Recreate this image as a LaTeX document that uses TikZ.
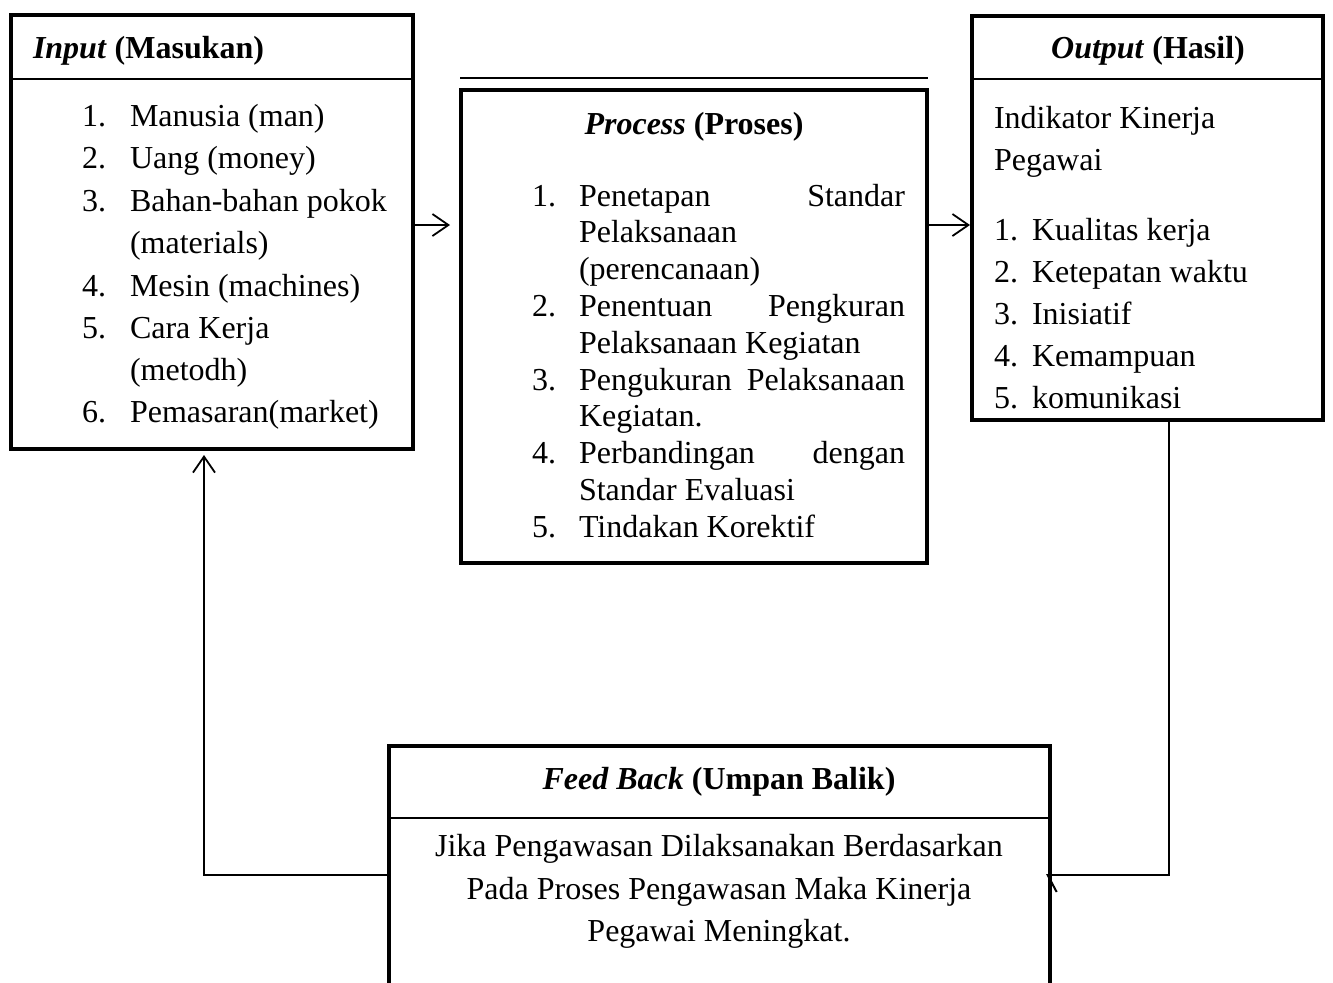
\documentclass[tikz,border=0pt]{standalone}
\usepackage{fontspec}
\setmainfont{Liberation Serif}
\usetikzlibrary{arrows.meta}
\begin{document}
\begin{tikzpicture}[x=0.5pt,y=-0.5pt,
  box/.style={draw, line width=2.25pt, anchor=north west, inner sep=0pt, outer sep=0pt},
  sepline/.style={line width=0.7pt},
  txt/.style={inner sep=0pt, outer sep=0pt, anchor=base west, yshift=-1pt, font=\fontsize{16}{19}\selectfont},
  ctxt/.style={txt, anchor=base},
  conn/.style={line width=0.9pt, -{Straight Barb[length=8pt,width=11pt,line width=0.9pt]}},
  harp/.style={line width=0.9pt, -{Straight Barb[harpoon,length=4.5pt,width=17pt,line width=1pt]}},
]
\useasboundingbox (0,0) rectangle (1333,982);
% boxes
\node[box, minimum width=201pt, minimum height=217pt] (inp) at (11,15) {};
\node[box, minimum width=233pt, minimum height=236.5pt] (proc) at (461,90) {};
\node[box, minimum width=175.5pt, minimum height=202pt] (out) at (972,16) {};
\node[box, minimum width=330.5pt, minimum height=140pt] (fb) at (389,746) {};
% header separators
\draw[sepline] (11,79) -- (413,79);
\draw[sepline] (972,79) -- (1323,79);
\draw[sepline] (389,818) -- (1050,818);
\draw[sepline] (460,78) -- (928,78);
% Input texts
\node[txt] (ih) at (33,56) {\textbf{\textit{Input} (Masukan)}};
\node[txt] (in1) at (82,124) {1.};
\node[txt] (it1) at (130,124) {Manusia (man)};
\node[txt] (in2) at (82,166) {2.};
\node[txt] (it2) at (130,166) {Uang (money)};
\node[txt] (in3) at (82,209) {3.};
\node[txt] (it3) at (130,209) {Bahan-bahan pokok};
\node[txt] (it3b) at (130,251) {(materials)};
\node[txt] (in4) at (82,294) {4.};
\node[txt] (it4) at (130,294) {Mesin (machines)};
\node[txt] (in5) at (82,336) {5.};
\node[txt] (it5) at (130,336) {Cara Kerja};
\node[txt] (it5b) at (130,378) {(metodh)};
\node[txt] (in6) at (82,420) {6.};
\node[txt] (it6) at (130,420) {Pemasaran(market)};
% Process texts
\node[ctxt] (ph) at (694,132) {\textbf{\textit{Process} (Proses)}};
\node[txt] (pn1) at (532,204) {1.};
\node[txt] (pt1) at (579,204) {\makebox[163pt][l]{Penetapan\hfill Standar}};
\node[txt] (pt1b) at (579,240.8) {Pelaksanaan};
\node[txt] (pt1c) at (579,277.6) {(perencanaan)};
\node[txt] (pn2) at (532,314.4) {2.};
\node[txt] (pt2) at (579,314.4) {\makebox[163pt][l]{Penentuan\hfill Pengkuran}};
\node[txt] (pt2b) at (579,351.2) {Pelaksanaan Kegiatan};
\node[txt] (pn3) at (532,388) {3.};
\node[txt] (pt3) at (579,388) {\makebox[163pt][l]{Pengukuran\hfill Pelaksanaan}};
\node[txt] (pt3b) at (579,424.8) {Kegiatan.};
\node[txt] (pn4) at (532,461.6) {4.};
\node[txt] (pt4) at (579,461.6) {\makebox[163pt][l]{Perbandingan\hfill dengan}};
\node[txt] (pt4b) at (579,498.4) {Standar Evaluasi};
\node[txt] (pn5) at (532,535.2) {5.};
\node[txt] (pt5) at (579,535.2) {Tindakan Korektif};
% Output texts
\node[ctxt] (oh) at (1148,56) {\textbf{\textit{Output} (Hasil)}};
\node[txt] (oi1) at (994,126) {Indikator Kinerja};
\node[txt] (oi2) at (994,168) {Pegawai};
\node[txt] (on1) at (994,238) {1.};
\node[txt] (ot1) at (1032,238) {Kualitas kerja};
\node[txt] (on2) at (994,280) {2.};
\node[txt] (ot2) at (1032,280) {Ketepatan waktu};
\node[txt] (on3) at (994,322) {3.};
\node[txt] (ot3) at (1032,322) {Inisiatif};
\node[txt] (on4) at (994,364) {4.};
\node[txt] (ot4) at (1032,364) {Kemampuan};
\node[txt] (on5) at (994,406) {5.};
\node[txt] (ot5) at (1032,406) {komunikasi};
% Feedback texts
\node[ctxt] (fh) at (719,787) {\textbf{\textit{Feed Back} (Umpan Balik)}};
\node[ctxt] (f1) at (719,854) {Jika Pengawasan Dilaksanakan Berdasarkan};
\node[ctxt] (f2) at (719,897) {Pada Proses Pengawasan Maka Kinerja};
\node[ctxt] (f3) at (719,939) {Pegawai Meningkat.};
% connectors
\coordinate (a1) at (0,225);
\coordinate (c1) at (1169,875);
\coordinate (c2) at (204,875);
\draw[conn, shorten >=5.5pt] (inp.east |- a1) -- (proc.west |- a1);
\draw[conn, shorten >=1pt] (proc.east |- a1) -- (out.west |- a1);
\draw[harp, shorten >=-2pt] (out.south -| c1) -- (c1) -- (fb.east |- c1);
\draw[conn, shorten >=3pt] (fb.west |- c2) -- (c2) -- (inp.south -| c2);
\end{tikzpicture}
\end{document}
